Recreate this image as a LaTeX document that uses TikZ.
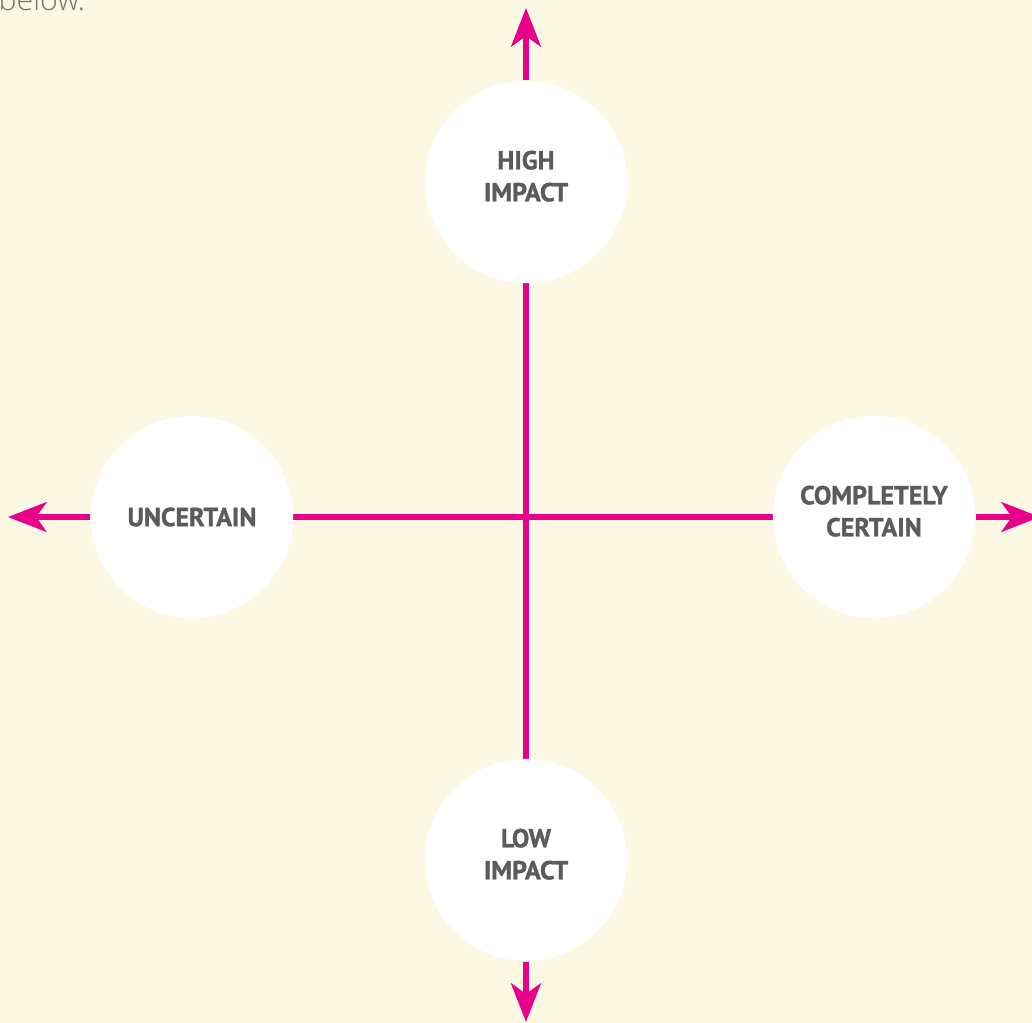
\documentclass[tikz,border=0pt]{standalone}
\usepackage{fontspec}
\usepackage{xcolor}
\usetikzlibrary{arrows.meta}
\newfontfamily\axisfont{PT Sans}[FakeBold=1.2]
\newfontfamily\notefont{Open Sans Light}
\definecolor{AxisPink}{HTML}{E8008A}
\definecolor{AxisCream}{HTML}{FBF8E3}
\definecolor{AxisGrey}{HTML}{5B5B5B}

\begin{document}
\begin{tikzpicture}[x=0.01cm, y=-0.01cm,
  pole/.style={circle, fill=white, minimum size=2.02cm, inner sep=0pt, align=center,
               font=\axisfont\bfseries\fontsize{7.4pt}{9.1pt}\selectfont, text=AxisGrey},
  twoline/.style={text depth=3.4pt},
  ax/.style={line width=1.45pt, AxisPink},
  tip/.style={ax, -{Stealth[length=11pt, width=8.5pt, inset=3pt]}}]
\useasboundingbox[fill=AxisCream] (0,0) rectangle (1032,1023);
\node[anchor=base west, font=\notefont\fontsize{8.6pt}{10pt}\selectfont, text=AxisGrey!85, inner sep=0pt]
  (note) at (-2,10) {below.};

% axis ends
\coordinate (up) at (526,8);
\coordinate (down) at (526,1022);
\coordinate (left) at (8,517);
\coordinate (right) at (1040,517);

\draw[ax] (526,182) -- (526,860);
\draw[ax] (192,517) -- (874,517);

\node[pole, twoline] (high) at (526,182) {HIGH\\IMPACT};
\node[pole, twoline] (low) at (526,860) {LOW\\IMPACT};
\node[pole] (unc) at (192,517) {UNCERTAIN};
\node[pole, twoline] (cert) at (874,517) {COMPLETELY\\CERTAIN};

\draw[tip] (high) -- (up);
\draw[tip] (low) -- (down);
\draw[tip] (unc) -- (left);
\draw[tip] (cert) -- (right);
\end{tikzpicture}
\end{document}
